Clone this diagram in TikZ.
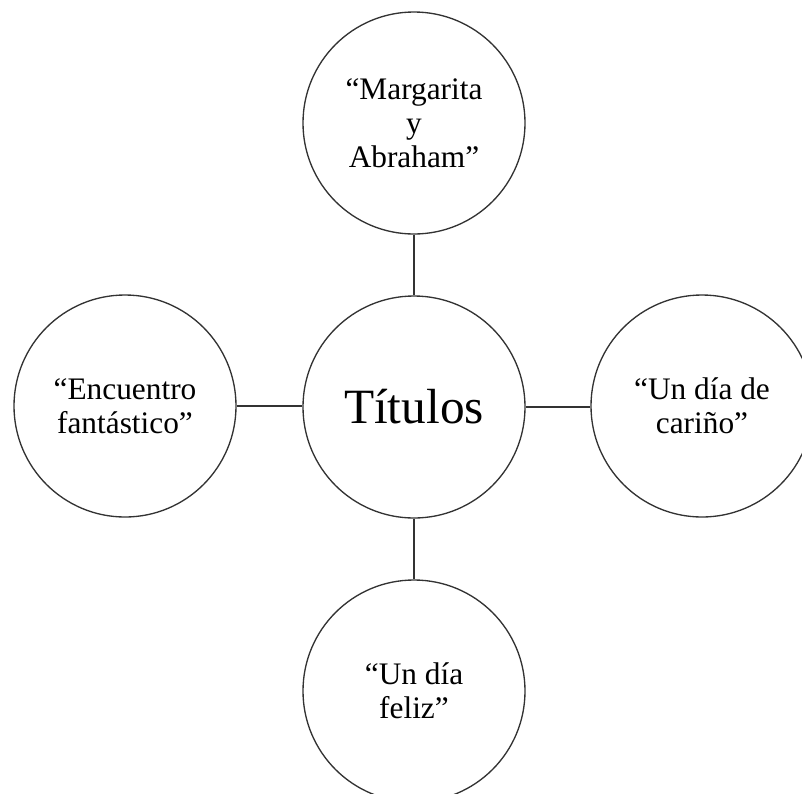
\documentclass[tikz,border=0pt]{standalone}
\usepackage{fontspec}
\setmainfont{Liberation Serif}
\begin{document}
\begin{tikzpicture}[x=0.75pt,y=-0.75pt,
  bubble/.style={circle,draw=black!80,line width=1pt,minimum size=166.5pt,inner sep=0pt,align=center,
    font=\fontsize{23.5pt}{25.5pt}\selectfont},
  link/.style={draw=black!80,line width=1pt}]
\useasboundingbox (0,0) rectangle (802,793);
\clip (0,0) rectangle (802,793);
\node[bubble] (top) at (414,123) {“Margarita\\y\\Abraham”};
\node[bubble,font=\fontsize{37pt}{40pt}\selectfont] (mid) at (414,407) {Títulos};
\node[bubble] (left) at (125,406) {“Encuentro\\fantástico”};
\node[bubble] (right) at (702,406) {“Un día de\\cariño”};
\node[bubble] (bot) at (414,691) {“Un día\\feliz”};
\draw[link] (top) -- (mid);
\draw[link] (mid) -- (bot);
\draw[link] (left) -- (left-|mid.west);
\draw[link] (mid.east) -- (right.west|-mid.east);
\end{tikzpicture}
\end{document}
